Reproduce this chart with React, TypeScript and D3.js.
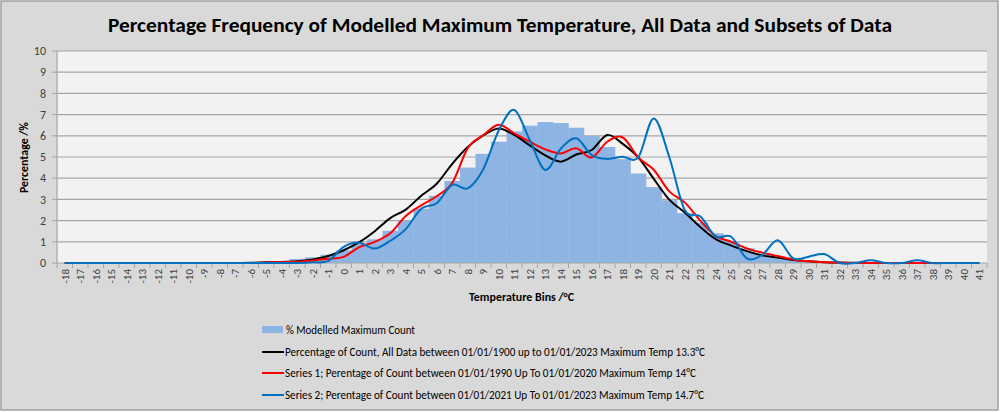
import React from 'react';
import * as d3 from 'd3';

// temperature bins, degrees C
const bins = [
  '-18', '-17', '-16', '-15', '-14', '-13', '-12', '-11', '-10', '-9',
  '-8', '-7', '-6', '-5', '-4', '-3', '-2', '-1', '0', '1',
  '2', '3', '4', '5', '6', '7', '8', '9', '10', '11',
  '12', '13', '14', '15', '16', '17', '18', '19', '20', '21',
  '22', '23', '24', '25', '26', '27', '28', '29', '30', '31',
  '32', '33', '34', '35', '36', '37', '38', '39', '40', '41',
];

// % Modelled Maximum Count (bars)
const modelledPct = [
  0, 0, 0, 0, 0, 0, 0, 0, 0, 0,
  0, 0.01, 0.02, 0.05, 0.08, 0.19, 0.27, 0.39, 0.6, 0.9,
  1.12, 1.52, 2.0, 2.56, 3.17, 3.87, 4.5, 5.15, 5.72, 6.2,
  6.48, 6.65, 6.6, 6.38, 5.99, 5.47, 4.9, 4.22, 3.58, 2.96,
  2.35, 1.9, 1.4, 1.02, 0.69, 0.45, 0.3, 0.17, 0.09, 0.04,
  0.02, 0.01, 0, 0, 0, 0, 0, 0, 0, 0,
];

// all data 1900-2023
const allData = [
  0, 0, 0, 0, 0, 0, 0, 0, 0, 0,
  0, 0, 0.01, 0.03, 0.05, 0.08, 0.17, 0.33, 0.6, 0.98,
  1.5, 2.12, 2.52, 3.17, 3.74, 4.68, 5.47, 6.02, 6.35, 6.04,
  5.55, 5.08, 4.78, 5.12, 5.33, 6.04, 5.62, 4.98, 3.97, 2.99,
  2.38, 1.7, 1.13, 0.82, 0.56, 0.36, 0.26, 0.14, 0.08, 0.04,
  0.02, 0.01, 0, 0, 0, 0, 0, 0, 0, 0,
];

// series 1: 1990-2020
const series1 = [
  0, 0, 0, 0, 0, 0, 0, 0, 0, 0,
  0, 0, 0, 0.02, 0.04, 0.06, 0.12, 0.2, 0.29, 0.75,
  1.0, 1.4, 2.22, 2.72, 3.15, 3.78, 5.42, 6.03, 6.52, 6.12,
  5.72, 5.36, 5.17, 5.41, 4.98, 5.72, 5.92, 4.98, 4.4, 3.38,
  2.86, 2.0, 1.27, 1.0, 0.69, 0.49, 0.33, 0.17, 0.08, 0.03,
  0.01, 0, 0, 0, 0, 0, 0, 0, 0, 0,
];

// series 2: 2021-2023
const series2 = [
  0, 0, 0, 0, 0, 0, 0, 0, 0, 0,
  0, 0, 0, 0, 0, 0, 0.03, 0.1, 0.76, 0.96,
  0.68, 1.05, 1.6, 2.56, 2.82, 3.69, 3.52, 4.42, 6.25, 7.22,
  5.8, 4.39, 5.39, 5.88, 5.09, 4.91, 5.01, 4.98, 6.82, 5.0,
  2.5, 2.2, 1.25, 1.24, 0.22, 0.38, 1.07, 0.22, 0.3, 0.42,
  0, 0, 0.13, 0, 0, 0.13, 0, 0, 0, 0,
];

const yTicks = [0, 1, 2, 3, 4, 5, 6, 7, 8, 9, 10];

const legendLabels = [
  '% Modelled Maximum Count',
  'Percentage of Count, All Data between 01/01/1900 up to 01/01/2023 Maximum Temp 13.3°C',
  'Series 1; Perentage of Count between 01/01/1990 Up To 01/01/2020 Maximum Temp 14°C',
  'Series 2; Perentage of Count between 01/01/2021 Up To 01/01/2023 Maximum Temp 14.7°C',
];

const W = 1000;
const H = 412;
const font = "Carlito, Calibri, 'Open Sans', sans-serif";

const App: React.FC = () => {
  const x = d3.scaleBand<string>().domain(bins).range([57, 987]).padding(0);
  const y = d3.scaleLinear().domain([0, 10]).range([263, 51]);

  const line = d3
    .line<number>()
    .x((_, i) => (x(bins[i]) as number) + x.bandwidth() / 2)
    .y(d => y(d))
    .curve(d3.curveCardinal.tension(0));

  const lines = [
    { data: allData, color: '#000000' },
    { data: series1, color: '#ff0000' },
    { data: series2, color: '#0070c0' },
  ];

  const legendRows = [
    { color: '#8db4e2', bar: true, width: 129 },
    { color: '#000000', bar: false, width: 420 },
    { color: '#ff0000', bar: false, width: 411 },
    { color: '#0070c0', bar: false, width: 419 },
  ];
  const legendY = [330, 352, 373, 395];

  return (
    <div style={{ position: 'absolute', left: 0, top: 0 }}>
      <svg width={W} height={H} style={{ display: 'block', fontFamily: font }}>
        <rect x={1} y={1} width={W - 3} height={H - 3} fill="#d9d9d9" stroke="#a0a0a0" strokeWidth={1.5} />

        <text x={500} y={32} textAnchor="middle" fontSize={20} fontWeight="bold" fill="#000"
          textLength={784} lengthAdjust="spacingAndGlyphs">
          Percentage Frequency of Modelled Maximum Temperature, All Data and Subsets of Data
        </text>

        {/* plot area */}
        <rect x={57} y={51} width={930} height={212} fill="#f2f2f2" />

        {yTicks.slice(1).map(t => (
          <line key={t} x1={57} x2={987} y1={y(t)} y2={y(t)} stroke="#a6a6a6" strokeWidth={1.2} />
        ))}

        {modelledPct.map((v, i) => (
          <rect key={bins[i]} x={x(bins[i])} y={y(v)} width={x.bandwidth() + 0.3}
            height={y(0) - y(v)} fill="#8db4e2" />
        ))}

        {/* axes */}
        <line x1={57} x2={987} y1={263} y2={263} stroke="#a6a6a6" strokeWidth={1.2} />
        <line x1={57} x2={57} y1={51} y2={263} stroke="#a6a6a6" strokeWidth={1.2} />
        {yTicks.map(t => (
          <g key={t}>
            <line x1={52} x2={57} y1={y(t)} y2={y(t)} stroke="#a6a6a6" />
            <text x={46} y={y(t)} dy="0.35em" textAnchor="end" fontSize={12} fill="#404040">{t}</text>
          </g>
        ))}
        {bins.map(b => (
          <line key={'t' + b} x1={x(b)} x2={x(b)} y1={263} y2={268} stroke="#a6a6a6" />
        ))}
        <line x1={987} x2={987} y1={263} y2={268} stroke="#a6a6a6" />
        {bins.map(b => {
          const cx = (x(b) as number) + x.bandwidth() / 2;
          return (
            <text key={'l' + b} transform={`translate(${cx},269) rotate(-90)`} dy="0.35em"
              textAnchor="end" fontSize={11} fill="#404040">{b}</text>
          );
        })}

        {lines.map(l => (
          <path key={l.color} d={line(l.data) ?? ''} fill="none" stroke={l.color} strokeWidth={2} />
        ))}

        <text transform="translate(28,157.5) rotate(-90)" textAnchor="middle" fontSize={12}
          fontWeight="bold" fill="#000" textLength={71} lengthAdjust="spacingAndGlyphs">Percentage /%</text>
        <text x={521.5} y={301} textAnchor="middle" fontSize={12} fontWeight="bold" fill="#000"
          textLength={105} lengthAdjust="spacingAndGlyphs">
          Temperature Bins /°C
        </text>

        {legendRows.map((r, i) => (
          <g key={i}>
            {r.bar ? (
              <rect x={262} y={legendY[i] - 4} width={21} height={7} fill={r.color} />
            ) : (
              <line x1={262} x2={284} y1={legendY[i]} y2={legendY[i]} stroke={r.color} strokeWidth={2} />
            )}
            <text x={r.bar ? 286 : 285} y={legendY[i]} dy="0.35em" fontSize={12} fill="#000"
              textLength={r.width} lengthAdjust="spacingAndGlyphs">{legendLabels[i]}</text>
          </g>
        ))}
      </svg>
    </div>
  );
};

export default App;
